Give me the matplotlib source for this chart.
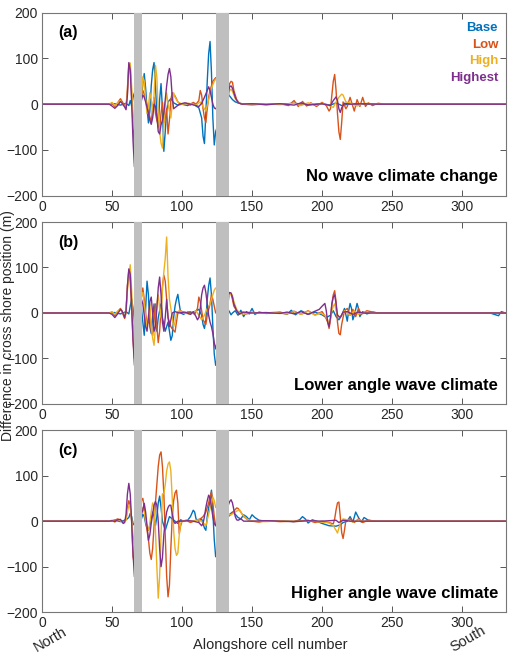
import matplotlib
matplotlib.use("Agg")
import matplotlib.pyplot as plt

plt.rcParams["font.family"] = ["Liberation Sans", "DejaVu Sans"]

SERIES = ["Base", "Low", "High", "Highest"]
COLORS = ["#0072BD", "#D95319", "#EDB120", "#7E2F8E"]
TITLES = ["No wave climate change", "Lower angle wave climate", "Higher angle wave climate"]
PANEL_TAGS = ["(a)", "(b)", "(c)"]
STRUCTURES = [(65.8, 71.2), (124.4, 133.4)]
X_TICKS = [0, 50, 100, 150, 200, 250, 300]
Y_TICKS = [-200, -100, 0, 100, 200]

# (cell, difference in m), panel (a)
A_BASE = [(0, 0), (48, 0), (52, 1), (56, -2), (60, 2), (62, -3), (63, 8), (64, -4), (65, 15), (66, 25),
          (71, 8), (72, 45), (73, 67), (74, 35), (75, -10), (76, -41), (77, -15), (78, 40), (79, 75), (80, 91),
          (81, 45), (82, -25), (83, -50), (84, 10), (85, 45), (86, -10), (87, -103), (88, -60), (89, -15),
          (90, 5), (92, 12), (94, 3), (97, -2), (100, 0), (104, -3), (107, 2), (110, -4), (112, -8), (114, -30),
          (115, -70), (116, -86), (117, -20), (118, 50), (119, 110), (120, 137), (121, 70), (122, -30),
          (123, -89), (124, -60),
          (133, 22), (134, 18), (136, 10), (138, 5), (141, 2), (145, 0), (150, -1), (160, 1), (170, 0), (180, 2),
          (190, -1), (200, 1), (206, -2), (210, 3), (214, -3), (220, 1), (230, 0), (250, 0), (331, 0)]
A_LOW = [(0, 0), (48, 0), (50, 2), (52, -5), (54, 3), (56, 12), (58, 2), (60, -8), (61, 35), (62, 88), (63, 82),
         (64, 20), (65, -50), (66, -95),
         (71, 20), (72, 30), (73, 22), (74, 10), (76, -15), (78, -40), (79, -10), (80, 15), (81, -20), (82, -35),
         (84, -55), (85, -20), (86, 5), (87, -40), (88, -30), (89, -10), (90, -65), (91, -35), (92, 10), (93, 25),
         (95, 18), (97, 5), (99, 0), (103, 2), (106, -2), (108, 4), (110, 0), (112, 8), (113, 30), (114, 20),
         (115, -10), (116, -30), (117, -40), (118, -10), (119, 15), (120, 30), (122, 50), (124, 58),
         (133, 30), (134, 45), (135, 50), (136, 48), (137, 30), (139, 10), (141, 2), (144, 0), (150, 1),
         (160, -1), (170, 1), (176, -3), (180, 8), (183, -5), (186, 6), (189, -4), (192, 3), (196, -5), (200, 4),
         (203, -3), (205, -15), (206, -10), (207, 20), (208, 50), (209, 65), (210, 30), (211, -20), (212, -60),
         (213, -77), (214, -40), (215, 5), (217, -10), (218, -5), (220, 15), (222, -5), (223, -15), (225, 10),
         (227, -5), (229, 15), (231, -5), (233, 3), (236, -3), (240, 2), (245, 0), (331, 0)]
A_HIGH = [(0, 0), (48, 0), (50, 4), (52, -3), (54, 3), (56, 8), (58, -2), (60, -5), (61, 25), (62, 75), (63, 90),
          (64, 40), (65, -20), (66, -55),
          (71, 15), (72, 60), (73, 50), (74, 10), (75, -20), (76, -5), (77, 25), (78, 10), (79, -25), (80, 20),
          (81, 85), (82, 60), (83, -20), (84, -60), (85, -85), (86, -96), (87, -50), (88, 0), (89, 25), (90, 0),
          (91, -15), (92, -30), (93, 0), (94, 25), (95, 15), (97, 5), (100, 0), (105, 2), (110, -2), (113, 5),
          (115, -5), (117, -15), (119, 10), (121, 35), (123, 50), (124, 55),
          (133, 15), (134, 30), (135, 33), (136, 28), (138, 12), (140, 3), (143, 0), (150, -2), (160, 1),
          (170, -1), (180, 2), (185, -3), (190, 3), (196, -2), (200, 2), (205, -3), (208, -7), (210, 5),
          (212, 15), (214, 22), (215, 20), (217, 5), (220, 3), (225, -4), (230, 2), (240, 0), (331, 0)]
A_HIGHEST = [(0, 0), (48, 0), (50, -4), (52, -9), (54, -3), (56, 6), (57, 3), (59, -6), (60, -12), (61, 20),
             (62, 91), (63, 75), (64, 5), (65, -80), (66, -137),
             (71, 10), (72, 20), (73, 15), (74, 5), (76, -20), (77, -35), (78, -44), (79, -30), (80, 0), (81, -5),
             (82, -25), (83, -60), (84, -65), (85, -45), (86, -35), (87, -20), (88, 10), (89, 40), (90, 65),
             (91, 78), (92, 60), (93, 15), (94, -10), (96, -5), (98, 0), (102, 3), (106, 0), (110, -3), (112, -5),
             (114, 2), (116, 15), (118, 30), (119, 38), (120, 30), (121, 15), (122, 0), (123, -8), (124, -10),
             (133, 25), (134, 38), (135, 40), (136, 35), (138, 15), (140, 3), (143, 0), (150, 1), (160, -1),
             (170, 1), (180, -2), (185, 3), (190, -2), (200, 1), (206, -3), (208, 8), (210, 16), (211, 8),
             (212, -10), (213, -18), (214, -8), (216, 2), (220, 0), (230, 1), (240, 0), (331, 0)]

# panel (b)
B_BASE = [(0, 0), (48, 0), (52, 1), (56, -2), (60, 3), (62, -2), (63, 15), (64, 31), (65, 10), (66, -20),
          (71, 10), (72, -20), (73, -49), (74, 10), (75, 70), (76, 40), (77, -30), (78, -45), (79, -10), (80, 20),
          (81, -20), (82, -40), (83, -10), (85, 20), (86, -10), (88, -40), (90, -20), (91, -40), (92, -60),
          (93, -50), (94, -10), (95, 15), (96, 30), (97, 41), (98, 20), (99, 0), (101, -3), (104, 2), (107, 0),
          (110, 5), (112, 8), (114, -5), (115, -25), (116, -34), (117, -15), (118, 30), (119, 60), (120, 77),
          (121, 40), (122, -30), (123, -90), (124, -115),
          (133, 7), (134, 2), (135, -4), (136, 0), (138, 5), (140, -5), (142, 6), (144, -8), (146, 3), (148, -2),
          (150, 10), (152, -3), (155, 2), (160, -1), (170, 1), (175, -3), (178, 6), (181, -4), (185, 5),
          (190, -3), (195, 2), (200, -4), (203, -10), (206, -5), (208, 5), (210, -8), (212, -15), (214, -5),
          (216, 10), (218, -18), (219, 5), (220, 21), (221, 10), (222, -15), (223, -5), (225, 21), (226, 10),
          (227, -8), (229, 3), (232, -2), (236, 2), (240, 0), (320, 0), (324, -4), (326, -6), (328, 3), (331, 0)]
B_LOW = [(0, 0), (48, 0), (50, 2), (52, -6), (54, 3), (56, 10), (57, 5), (59, -12), (60, 0), (61, 60), (62, 94),
         (63, 70), (64, 10), (65, -60), (66, -100),
         (71, 40), (72, 55), (73, 30), (74, 0), (75, -25), (76, -20), (77, 10), (78, -40), (79, -50), (80, -15),
         (81, 20), (82, -30), (83, -65), (84, -40), (85, 10), (86, 60), (87, 83), (88, 70), (89, 30), (90, -10),
         (91, -20), (92, -30), (93, -35), (95, -42), (96, -20), (97, 0), (99, 5), (102, 0), (106, 3), (109, -3),
         (111, 10), (112, 35), (113, 25), (114, 5), (115, -15), (117, -25), (118, -5), (120, 20), (121, 40),
         (122, 30), (123, 15), (124, 0),
         (133, 35), (134, 45), (135, 42), (136, 30), (137, 15), (139, 5), (141, -3), (143, 2), (146, -2),
         (150, 1), (160, 0), (170, 2), (175, -2), (180, 4), (185, -3), (190, 5), (195, -4), (200, 3), (202, -6),
         (204, -20), (205, -34), (206, -15), (207, 20), (208, 40), (209, 49), (210, 25), (211, -20), (212, -45),
         (213, -48), (214, -25), (216, 5), (218, 10), (220, -5), (222, 8), (224, -8), (226, 10), (228, -3),
         (232, 5), (236, 2), (240, 0), (331, 0)]
B_HIGH = [(0, 0), (48, 0), (50, 3), (52, -3), (54, 4), (56, 8), (58, -3), (59, -8), (60, 10), (61, 50), (62, 80),
          (63, 106), (64, 50), (65, -20), (66, -70),
          (71, 35), (72, 45), (73, 20), (74, -10), (75, -30), (76, -10), (77, 20), (78, -30), (79, -55), (80, -71),
          (81, -30), (82, 20), (83, 40), (84, 10), (85, -10), (86, 50), (87, 90), (88, 120), (89, 167), (90, 80),
          (91, 30), (92, 10), (93, -10), (94, -30), (95, -20), (96, 0), (98, 5), (102, 0), (106, -3), (110, 5),
          (112, -5), (114, -15), (116, -5), (118, 10), (120, 20), (122, 40), (123, 50), (124, 55),
          (133, 25), (134, 40), (135, 43), (136, 38), (137, 25), (139, 8), (141, 0), (144, -3), (148, 2),
          (155, 0), (165, 1), (175, -2), (180, 3), (185, -3), (190, 4), (195, -5), (199, 0), (202, -5),
          (204, -15), (205, -26), (206, -12), (207, 5), (208, 15), (209, 20), (210, 5), (212, -10), (214, -5),
          (216, 5), (220, -5), (223, 5), (226, -3), (230, 2), (236, 0), (331, 0)]
B_HIGHEST = [(0, 0), (48, 0), (50, -3), (52, -10), (54, -2), (56, 8), (57, 5), (59, -10), (60, 5), (61, 60),
             (62, 97), (63, 85), (64, 20), (65, -60), (66, -115),
             (71, 30), (72, 20), (73, -5), (74, -30), (75, -40), (76, -10), (77, 25), (78, 35), (79, 0), (80, -40),
             (81, -30), (82, 10), (83, 55), (84, 79), (85, 40), (86, -20), (87, -40), (88, -10), (89, 30),
             (90, -10), (91, -30), (92, -15), (93, 0), (95, 3), (98, 0), (102, 2), (106, -3), (108, 3), (110, -8),
             (111, -15), (112, -10), (113, 10), (114, 40), (115, 55), (116, 61), (117, 45), (118, 20), (119, -5),
             (120, -20), (121, -30), (122, -45), (123, -65), (124, -79),
             (133, 40), (134, 45), (135, 44), (136, 35), (137, 20), (139, 5), (141, -2), (144, 2), (150, 0),
             (160, 1), (170, -1), (175, 2), (180, -2), (185, 3), (190, -3), (195, 4), (198, 8), (200, 15),
             (202, 21), (203, 5), (204, -20), (205, -30), (206, -10), (207, 20), (208, 35), (209, 40), (210, 20),
             (211, -5), (213, -10), (215, 2), (218, 3), (222, -3), (226, 2), (230, 0), (331, 0)]

# panel (c)
C_BASE = [(0, 0), (48, 0), (52, 2), (56, -1), (60, 3), (62, 8), (63, 17), (64, 10), (65, -5), (66, -9),
          (71, 5), (72, 15), (73, 10), (74, -5), (75, -15), (76, -20), (77, -10), (78, 5), (79, 20), (80, 10),
          (81, -10), (82, 10), (83, 40), (84, 55), (85, 30), (86, 0), (87, -10), (88, -20), (89, -10), (90, 0),
          (91, 10), (93, 5), (95, 0), (97, -5), (99, 3), (101, 0), (104, 2), (106, 10), (108, 24), (109, 20),
          (110, 5), (112, 0), (114, 5), (115, -5), (116, -15), (117, -20), (118, 10), (119, 30), (120, 45),
          (121, 68), (122, 20), (123, -40), (124, -78),
          (133, 11), (134, 15), (136, 20), (138, 15), (140, 8), (142, 5), (144, 14), (146, 10), (148, 3),
          (150, 14), (152, 8), (155, 2), (160, 0), (170, 1), (180, -1), (184, 3), (186, 10), (188, 5), (190, -4),
          (193, 3), (196, 0), (200, -5), (205, -10), (210, -11), (213, -8), (215, -3), (218, 0), (220, 10),
          (222, -2), (224, 20), (226, 8), (228, -2), (230, 8), (233, 2), (238, 0), (331, 0)]
C_LOW = [(0, 0), (48, 0), (50, 1), (52, 2), (54, 5), (56, 2), (58, -3), (60, 5), (61, 30), (62, 45), (63, 35),
         (64, 0), (65, -78), (66, -95),
         (71, 45), (72, 50), (73, 30), (74, 0), (75, -20), (76, -40), (77, -70), (78, -84), (79, -60), (80, -10),
         (81, 40), (82, 80), (83, 120), (84, 145), (85, 152), (86, 120), (87, 60), (88, -30), (89, -120),
         (90, -166), (91, -140), (92, -60), (93, 10), (94, 45), (95, 62), (96, 68), (97, 40), (98, -27),
         (99, -10), (100, 0), (103, 2), (106, -3), (110, 2), (113, 5), (115, 10), (117, 20), (119, 40), (120, 55),
         (121, 64), (122, 40), (123, 10), (124, -10),
         (133, 10), (135, 15), (137, 22), (139, 29), (140, 28), (142, 20), (144, 10), (147, 3), (150, 0),
         (155, -2), (160, 1), (170, -1), (180, 0), (190, 2), (195, -3), (200, 0), (205, -3), (208, -6), (209, 5),
         (210, 25), (211, 40), (212, 42), (213, 10), (214, -25), (215, -38), (216, -20), (217, 2), (220, 5),
         (223, -3), (226, 5), (229, -3), (233, 2), (238, 0), (331, 0)]
C_HIGH = [(0, 0), (48, 0), (50, 2), (52, -2), (54, 3), (56, 1), (58, -4), (60, 2), (61, 20), (62, 35), (63, 30),
          (64, 5), (65, -30), (66, -50),
          (71, 20), (72, 30), (73, 20), (74, 0), (75, -10), (76, -20), (77, -5), (78, 20), (79, 40), (80, 30),
          (81, -20), (82, -100), (83, -169), (84, -120), (85, -30), (86, 60), (87, 60), (88, 80), (89, 110),
          (90, 125), (91, 130), (92, 110), (93, 50), (94, -20), (95, -60), (96, -75), (97, -70), (98, -30),
          (99, -5), (100, 0), (104, 2), (108, 0), (112, 3), (115, -3), (117, -10), (119, 15), (121, 40),
          (122, 53), (123, 45), (124, 30),
          (133, 15), (135, 14), (137, 18), (139, 22), (141, 25), (143, 15), (146, 5), (150, 0), (160, -1),
          (170, 1), (180, -1), (190, 1), (200, -2), (205, -4), (208, -10), (210, -20), (211, -26), (212, -15),
          (213, -5), (215, 5), (218, 3), (222, -2), (226, 3), (230, 0), (331, 0)]
C_HIGHEST = [(0, 0), (48, 0), (50, 1), (52, -1), (54, 3), (56, 4), (58, -5), (59, -3), (60, 15), (61, 60),
             (62, 83), (63, 60), (64, 0), (65, -70), (66, -122),
             (71, 15), (72, 25), (73, 39), (74, 20), (75, -10), (76, -42), (77, -30), (78, -5), (79, 15), (80, 35),
             (81, 43), (82, 35), (83, 0), (84, -60), (85, -100), (86, -80), (87, -30), (88, 0), (89, 20), (90, 30),
             (91, 35), (92, 35), (93, 15), (94, 0), (95, -5), (97, 0), (100, 0), (104, 1), (108, 0), (112, -3),
             (114, -10), (115, -5), (116, 10), (117, 30), (118, 45), (119, 57), (120, 50), (121, 30), (122, 10),
             (123, -5), (124, -10),
             (133, 35), (134, 43), (135, 47), (136, 40), (137, 25), (138, 10), (139, 3), (140, 2), (142, 5),
             (144, 0), (150, 0), (160, 1), (170, 0), (180, -1), (190, 1), (200, 0), (210, 2), (212, -3), (215, 2),
             (220, 0), (331, 0)]

PANELS = [
    [A_BASE, A_LOW, A_HIGH, A_HIGHEST],
    [B_BASE, B_LOW, B_HIGH, B_HIGHEST],
    [C_BASE, C_LOW, C_HIGH, C_HIGHEST],
]

AXES_BOXES = [
    [0.0819, 0.7021, 0.9035, 0.2786],
    [0.0819, 0.3851, 0.9035, 0.2770],
    [0.0819, 0.0680, 0.9035, 0.2775],
]


def draw_panel(ax, panel_series, tag, title, show_legend):
    for points, color in zip(panel_series, COLORS):
        xs = [p[0] for p in points]
        ys = [p[1] for p in points]
        ax.plot(xs, ys, color=color, lw=1.0, zorder=2)

    for x0, x1 in STRUCTURES:
        ax.axvspan(x0, x1, color="#BFBFBF", lw=0, zorder=3)

    ax.set_xlim(0, 331)
    ax.set_ylim(-200, 200)
    ax.set_xticks(X_TICKS)
    ax.set_yticks(Y_TICKS)
    ax.tick_params(direction="in", top=True, right=True, length=4, width=0.7,
                   labelsize=10, color="#555555", labelcolor="#262626", pad=3)
    for spine in ax.spines.values():
        spine.set_color("#777777")
        spine.set_linewidth(0.8)

    ax.text(0.035, 0.89, tag, transform=ax.transAxes, fontsize=11.5,
            fontweight="bold", ha="left", va="center")
    ax.text(0.984, 0.103, title, transform=ax.transAxes, fontsize=12,
            fontweight="bold", ha="right", va="center")

    if show_legend:
        for name, color, yy in zip(SERIES, COLORS, [0.916, 0.823, 0.736, 0.643]):
            ax.text(0.984, yy, name, transform=ax.transAxes, color=color,
                    fontsize=9.5, fontweight="bold", ha="right", va="center")


def main():
    fig = plt.figure(figsize=(5.13, 6.57), dpi=100)
    for i, box in enumerate(AXES_BOXES):
        ax = fig.add_axes(box)
        draw_panel(ax, PANELS[i], PANEL_TAGS[i], TITLES[i], i == 0)

    fig.text(0.016, 0.505, "Difference in cross shore position (m)", rotation=90,
             ha="center", va="center", fontsize=10, color="#262626")
    fig.text(0.527, 0.018, "Alongshore cell number", ha="center", va="center",
             fontsize=10.5, color="#262626")
    fig.text(0.098, 0.027, "North", rotation=30, ha="center", va="center",
             fontsize=10.5, color="#262626")
    fig.text(0.913, 0.027, "South", rotation=30, ha="center", va="center",
             fontsize=10.5, color="#262626")

    fig.savefig("out.png", dpi=100)
    plt.close(fig)


if __name__ == "__main__":
    main()
